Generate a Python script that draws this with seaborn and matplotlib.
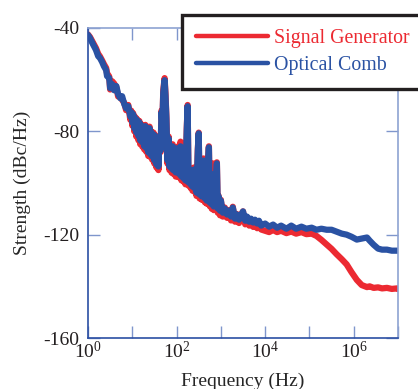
import numpy as np
import pandas as pd
import matplotlib
matplotlib.use("Agg")
import matplotlib.pyplot as plt
from matplotlib.ticker import FixedLocator, FixedFormatter
import seaborn as sns

# ---- data ----
log_freq = [0.00, 0.045, 0.11, 0.18, 0.23, 0.27, 0.32, 0.36, 0.41, 0.43,
            0.48, 0.50, 0.545, 0.59, 0.64, 0.68, 0.73, 0.77, 0.82, 0.86,
            0.91, 0.955, 0.977, 1.00, 1.02, 1.045, 1.07, 1.09, 1.11, 1.14,
            1.16, 1.18, 1.20, 1.23, 1.25, 1.27, 1.295, 1.32, 1.34, 1.36,
            1.39, 1.41, 1.43, 1.45, 1.48, 1.50, 1.52, 1.545, 1.57, 1.59,
            1.61, 1.64, 1.66, 1.68, 1.70, 1.73, 1.75, 1.77, 1.795, 1.82,
            1.84, 1.86, 1.886, 1.91, 1.93, 1.95, 1.98, 2.00, 2.02, 2.045,
            2.07, 2.09, 2.11, 2.14, 2.16, 2.18, 2.20, 2.23, 2.25, 2.27,
            2.295, 2.32, 2.34, 2.36, 2.39, 2.41, 2.43, 2.45, 2.48, 2.50,
            2.52, 2.545, 2.57, 2.59, 2.61, 2.64, 2.66, 2.68, 2.70, 2.73,
            2.75, 2.77, 2.795, 2.82, 2.84, 2.86, 2.886, 2.91, 2.93, 2.95,
            2.98, 3.00, 3.045, 3.09, 3.14, 3.18, 3.23, 3.27, 3.32, 3.36,
            3.41, 3.45, 3.50, 3.55, 3.59, 3.64, 3.68, 3.73, 3.77, 3.82,
            3.86, 3.91, 4.00, 4.09, 4.18, 4.27, 4.36, 4.48, 4.59, 4.70,
            4.82, 4.93, 5.05, 5.16, 5.27, 5.39, 5.50, 5.61, 5.73, 5.84,
            5.95, 6.07, 6.18, 6.30, 6.36, 6.45, 6.55, 6.64, 6.75, 6.86,
            6.98, 7.00]

optical_comb = [-42.7, -43.9, -46.2, -48.5, -50.9, -51.6, -53.2, -54.8, -56.3, -58.6,
                -59.4, -63.3, -61.7, -64.1, -62.5, -65.6, -67.2, -66.4, -69.5, -71.1,
                -70.3, -74.2, -72.6, -76.5, -73.4, -78.8, -75.0, -80.4, -75.7, -81.9,
                -76.5, -83.5, -77.7, -84.3, -78.8, -85.8, -78.0, -86.6, -79.6, -88.1,
                -78.8, -88.9, -80.4, -89.7, -81.2, -91.3, -81.9, -92.8, -83.5, -93.6,
                -82.7, -87.4, -72.6, -77.3, -64.9, -60.2, -66.4, -75.0, -91.3, -82.7,
                -93.6, -88.1, -94.4, -85.8, -95.1, -87.4, -95.9, -86.6, -95.9, -87.4,
                -96.7, -85.8, -97.5, -88.9, -98.2, -89.7, -99.0, -79.6, -70.3, -99.8,
                -95.1, -100.6, -95.9, -101.4, -94.8, -102.1, -97.5, -103.7, -87.4, -80.8,
                -104.5, -99.0, -105.2, -95.1, -91.3, -106.0, -100.6, -106.8, -95.1, -86.2,
                -107.6, -101.4, -108.3, -96.7, -109.1, -102.9, -99.0, -92.4, -109.9, -105.2,
                -110.7, -106.8, -111.5, -109.9, -112.2, -110.7, -113.0, -109.5, -113.8, -112.2,
                -114.2, -112.6, -111.0, -114.6, -113.0, -115.0, -113.8, -115.3, -114.2, -115.7,
                -114.6, -116.5, -115.7, -116.9, -116.1, -117.3, -116.5, -117.7, -116.5, -117.7,
                -116.9, -117.7, -117.3, -118.1, -117.7, -118.1, -118.1, -118.8, -119.6, -120.0,
                -120.8, -121.9, -121.5, -121.1, -122.3, -123.9, -125.4, -125.8, -125.8, -126.2,
                -126.2, -126.2]

signal_generator = [-42.5, -43.5, -45.6, -47.8, -50.0, -51.0, -52.6, -54.0, -55.5, -57.5,
                    -58.8, -63.8, -60.6, -61.5, -63.0, -66.5, -66.6, -67.8, -69.0, -71.8,
                    -69.8, -75.5, -72.0, -77.8, -73.0, -80.0, -74.5, -82.0, -75.3, -83.5,
                    -76.0, -85.0, -77.2, -86.0, -78.0, -87.0, -77.5, -88.0, -79.0, -89.5,
                    -78.2, -90.0, -80.0, -91.0, -80.5, -92.5, -81.5, -94.0, -83.0, -95.0,
                    -82.5, -88.0, -72.0, -77.0, -64.0, -59.4, -65.5, -74.5, -92.5, -82.0,
                    -95.0, -87.5, -96.0, -85.0, -96.5, -87.0, -97.5, -86.0, -97.5, -87.0,
                    -98.0, -84.0, -99.0, -88.5, -99.5, -89.0, -100.5, -79.0, -69.8, -101.0,
                    -94.5, -102.0, -95.5, -103.0, -94.0, -103.5, -97.0, -105.0, -87.0, -80.5,
                    -106.0, -98.5, -106.5, -94.0, -90.5, -107.5, -100.0, -108.0, -95.0, -85.8,
                    -109.0, -101.0, -110.0, -92.4, -110.5, -102.5, -98.5, -92.0, -111.5, -105.0,
                    -112.5, -106.5, -113.0, -109.5, -113.5, -110.5, -114.5, -109.2, -115.0, -112.0,
                    -115.5, -112.5, -111.0, -116.0, -113.2, -116.5, -114.0, -117.0, -115.0, -117.5,
                    -116.0, -118.0, -118.5, -119.0, -118.2, -119.0, -118.5, -119.4, -118.8, -119.6,
                    -119.0, -119.8, -119.6, -120.5, -122.0, -123.8, -125.5, -127.5, -129.5, -131.5,
                    -134.5, -137.5, -139.5, -140.3, -140.0, -140.6, -140.4, -140.8, -140.6, -141.0,
                    -140.8, -141.0]

series_names = ["Signal Generator", "Optical Comb"]
series_colors = ["#ec2a32", "#2a52a3"]
x_tick_exponents = [0, 1, 2, 3, 4, 5, 6, 7]
x_labelled_exponents = [0, 2, 4, 6]
y_ticks = [-160, -120, -80, -40]

assert len(log_freq) == len(optical_comb) == len(signal_generator)

freq = [10 ** v for v in log_freq]
df = pd.concat([
    pd.DataFrame({"Frequency": freq, "Strength": signal_generator, "Series": series_names[0]}),
    pd.DataFrame({"Frequency": freq, "Strength": optical_comb, "Series": series_names[1]}),
], ignore_index=True)

# ---- style ----
sns.set_style("white")
plt.rcParams["font.family"] = ["Liberation Serif", "DejaVu Serif"]
plt.rcParams["mathtext.fontset"] = "custom"
plt.rcParams["mathtext.rm"] = "Liberation Serif"
plt.rcParams["mathtext.it"] = "Liberation Serif:italic"
plt.rcParams["text.color"] = "#231f20"

fig = plt.figure(figsize=(4.18, 3.89), dpi=100)
ax = fig.add_axes([88 / 418, 1 - 338 / 389, 310 / 418, 310 / 389])

sns.lineplot(data=df, x="Frequency", y="Strength", hue="Series",
             hue_order=series_names, palette=series_colors,
             estimator=None, sort=False, linewidth=4.5, ax=ax, legend=True)

ax.set_xscale("log")
ax.set_xlim(1, 1e7)
ax.set_ylim(-160, -40)

ax.xaxis.set_major_locator(FixedLocator([10.0 ** e for e in x_tick_exponents]))
ax.xaxis.set_major_formatter(FixedFormatter(
    [r"$\mathregular{10^{%d}}$" % e if e in x_labelled_exponents else "" for e in x_tick_exponents]))
ax.xaxis.set_minor_locator(FixedLocator([]))
ax.set_yticks(y_ticks)
ax.set_yticklabels([str(v) for v in y_ticks])

for side in ["left", "bottom"]:
    ax.spines[side].set_color("#2b4fa3")
    ax.spines[side].set_linewidth(1.2)
for side in ["top", "right"]:
    ax.spines[side].set_visible(True)
    ax.spines[side].set_color("#8ea3d2")
    ax.spines[side].set_linewidth(1.2)

ax.tick_params(axis="both", which="major", direction="in", length=8.5, width=1.0,
               color="#7f96cc", labelsize=14, labelcolor="#231f20",
               top=True, right=True, bottom=True, left=True)
ax.tick_params(axis="x", pad=2)
ax.tick_params(axis="y", pad=6.5)

ax.set_xlabel("Frequency (Hz)", fontsize=14)
ax.set_ylabel("Strength (dBc/Hz)", fontsize=14)
ax.xaxis.set_label_coords(0.5, -0.113)
ax.yaxis.set_label_coords(-0.185, 0.5)

handles, labels = ax.get_legend_handles_labels()
leg = ax.legend(handles, labels, loc="upper left",
                bbox_to_anchor=(181.5 / 418, 1 - 14.5 / 389), bbox_transform=fig.transFigure,
                borderaxespad=0, frameon=True, fancybox=False, framealpha=1,
                edgecolor="#231f20", fontsize=14.3, handlelength=3.6, handletextpad=0.3,
                labelspacing=0.36, borderpad=0.75)
leg.get_frame().set_linewidth(2.4)
for h in leg.get_lines():
    h.set_linewidth(3.2)
for t, c in zip(leg.get_texts(), series_colors):
    t.set_color(c)

fig.savefig("out.png", dpi=100)
